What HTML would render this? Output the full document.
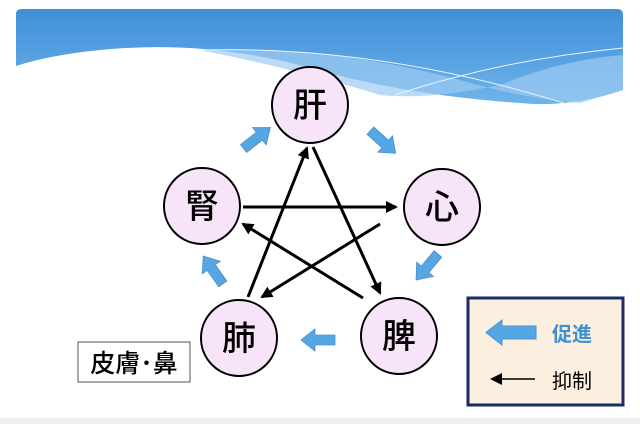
<!DOCTYPE html>
<html><head><meta charset="utf-8"><style>
html,body{margin:0;padding:0;background:#fff}
svg{display:block}
text{font-family:"Liberation Sans","Noto Sans CJK JP",sans-serif}
</style></head><body>
<svg width="640" height="424" viewBox="0 0 640 424" xmlns="http://www.w3.org/2000/svg">
<defs>
<linearGradient id="bg" x1="0" y1="0" x2="0" y2="1">
<stop offset="0" stop-color="#3f8fd8"/><stop offset="1" stop-color="#6fb3ea"/>
</linearGradient>
<marker id="ah" markerWidth="12" markerHeight="12" refX="10" refY="6" orient="auto" markerUnits="userSpaceOnUse">
<path d="M0,0 L12,6 L0,12 z" fill="#000"/>
</marker>
<path id="ba" d="M-17,-5 L3,-5 L3,-11 L17,0 L3,11 L3,5 L-17,5 z" fill="#55a6e2" stroke="#4a90d0" stroke-width="0.8"/>
</defs>
<rect x="0" y="418" width="640" height="6" fill="#eeeeee"/>
<path d="M16,14 Q16,9 22,9 L617,9 Q623,9 623,15 L623,90 Q570,108 520,103 Q400,95 300,65 Q200,40 100,50 Q50,55 16,66 Z" fill="url(#bg)"/>
<path d="M200,50 Q330,45 460,80 Q520,98 580,103 L623,90 L623,55 Q560,60 500,85 Q430,100 380,95 Q300,70 200,50Z" fill="#9ccbf2" opacity="0.7"/>
<path d="M200,50 Q380,45 570,105" stroke="#e8f4ff" stroke-width="1" fill="none"/>
<path d="M395,95 Q500,60 623,48" stroke="#e8f4ff" stroke-width="1" fill="none"/>
<g stroke="#000" stroke-width="3" marker-end="url(#ah)">
<line x1="313" y1="147" x2="380" y2="293"/>
<line x1="248" y1="297" x2="307" y2="148"/>
<line x1="243" y1="207" x2="396" y2="207"/>
<line x1="380" y1="224" x2="262" y2="297"/>
<line x1="363" y1="298" x2="243" y2="224"/>
</g>
<g fill="#f8e4f8" stroke="#000" stroke-width="2">
<circle cx="310" cy="105" r="38"/>
<circle cx="442" cy="207" r="38"/>
<circle cx="202" cy="206" r="38"/>
<circle cx="239" cy="338" r="38"/>
<circle cx="399" cy="336" r="38"/>
</g>
<g font-size="34" text-anchor="middle" fill="#000" font-weight="500">
<text x="310" y="117">肝</text>
<text x="442" y="219">心</text>
<text x="202" y="218">腎</text>
<text x="239" y="350">肺</text>
<text x="399" y="348">脾</text>
</g>
<use href="#ba" transform="translate(257,138) rotate(-38)"/>
<use href="#ba" transform="translate(383,142) rotate(42)"/>
<use href="#ba" transform="translate(427,267) rotate(130)"/>
<use href="#ba" transform="translate(318,340) rotate(180)"/>
<use href="#ba" transform="translate(213,270) rotate(-125)"/>
<rect x="78" y="342" width="112" height="40" fill="#fff" stroke="#555" stroke-width="1"/>
<text x="134" y="372" font-size="25" text-anchor="middle" font-weight="500">皮膚･鼻</text>
<rect x="468" y="298" width="155" height="107" fill="#fbf0e0" stroke="#1a2a6a" stroke-width="3"/>
<path d="M536,326 L536,339 L502,339 L502,345 L486,332.5 L502,320 L502,326 Z" fill="#55a6e2" stroke="#4a90d0"/>
<text x="552" y="341" font-size="20" font-weight="bold" fill="#3e8fd4">促進</text>
<line x1="535" y1="379" x2="492" y2="379" stroke="#000" stroke-width="1.5" marker-end="url(#ah)"/>
<text x="552" y="388" font-size="20" fill="#000">抑制</text>
</svg>
</body></html>
